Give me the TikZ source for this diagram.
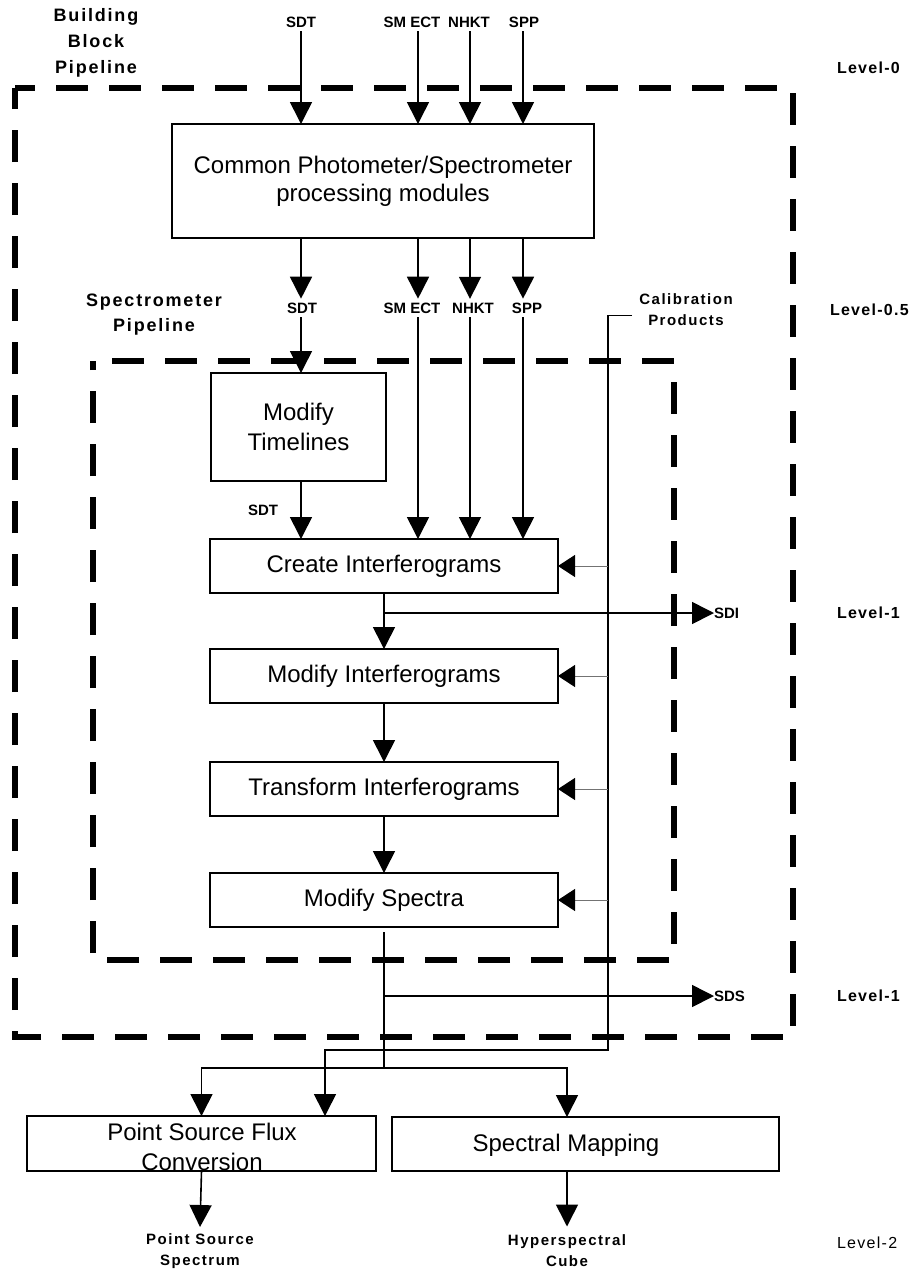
\documentclass[tikz,border=0pt]{standalone}
\usepackage{fontspec}
\setmainfont{Liberation Sans}
\newfontfamily\spacedfont[LetterSpace=10]{Liberation Sans}
\newfontfamily\lvlfont[LetterSpace=8]{Liberation Sans}
\usetikzlibrary{arrows.meta,calc}
\begin{document}
\begin{tikzpicture}[x=1pt,y=-1pt,
  every node/.style={inner sep=0pt, outer sep=0pt},
  procbox/.style={draw, line width=1.6pt, minimum height=54pt, font=\fontsize{24}{30}\selectfont, align=center},
  plainbox/.style={draw, line width=1.6pt, minimum height=54pt},
  boxtext/.style={font=\fontsize{24}{30}\selectfont, align=center},
  pipe/.style={draw, line width=5.5pt, dash pattern=on 32pt off 21pt, line cap=butt},
  arr/.style={line width=1.6pt, -{Triangle[length=22pt,width=22pt]}},
  flow/.style={line width=1.6pt},
  calarr/.style={line width=1pt, draw=black!55, -{Triangle[length=17pt,width=22pt,color=black]}},
  lab/.style={font=\bfseries\fontsize{15}{18}\selectfont, outer sep=4pt},
  tag/.style={font=\bfseries\fontsize{15}{18}\selectfont, anchor=west},
  sp/.style={font=\spacedfont\bfseries\fontsize{15}{21}\selectfont, align=center},
  title/.style={font=\spacedfont\bfseries\fontsize{18}{26}\selectfont, align=center},
  lvl/.style={font=\lvlfont\bfseries\fontsize{16}{19}\selectfont, anchor=west},
]
\useasboundingbox (0,0) rectangle (910,1270);

% pipeline containers
\draw[pipe, dash phase=12pt] (15,88) -- (793,88) -- (793,1037) -- (15,1037) -- cycle;
\draw[pipe, dash phase=34pt] (93,361) -- (674,361) -- (674,960) -- (93,960) -- cycle;

% titles
\node[title] (bbp) at (96,43) {Building\\Block\\Pipeline};
\node[title, font=\spacedfont\bfseries\fontsize{18}{25}\selectfont] (spp) at (154,315) {Spectrometer\\Pipeline};

% level labels
\node[lvl] (l0) at (837,68) {Level-0};
\node[lvl] (l05) at (830,310) {Level-0.5};
\node[lvl] (l1a) at (837,613) {Level-1};
\node[lvl] (l1b) at (837,996) {Level-1};
\node[lvl, font=\lvlfont\fontsize{16}{19}\selectfont] (l2) at (837,1243) {Level-2};

% x positions of the data streams
\coordinate (xa) at (301,0);
\coordinate (xb) at (418,0);
\coordinate (xc) at (470,0);
\coordinate (xd) at (523,0);
\coordinate (xs) at (567,0);

% top inputs
\node[lab] (sdtA) at (301,22) {SDT};
\node[lab] (smA) at (412,22) {SM ECT};
\node[lab] (nhA) at (469,22) {NHKT};
\node[lab] (spA) at (524,22) {SPP};

\node[procbox, minimum width=422pt, minimum height=114pt, font=\fontsize{24}{28}\selectfont] (common) at (383,181) {Common Photometer/Spectrometer\\processing modules};

\draw[arr] (sdtA.south -| xa) -- (common.north -| xa);
\draw[arr] (smA.south -| xb) -- (common.north -| xb);
\draw[arr] (nhA.south -| xc) -- (common.north -| xc);
\draw[arr] (spA.south -| xd) -- (common.north -| xd);

% level 0.5 products
\node[lab] (sdtB) at (302,308) {SDT};
\node[lab] (smB) at (412,308) {SM ECT};
\node[lab] (nhB) at (473,308) {NHKT};
\node[lab] (spB) at (527,308) {SPP};

\draw[arr] (common.south -| xa) -- (sdtB.north -| xa);
\draw[arr] (common.south -| xb) -- (smB.north -| xb);
\draw[arr] (common.south -| xc) -- (nhB.north -| xc);
\draw[arr] (common.south -| xd) -- (spB.north -| xd);

% spectrometer pipeline modules
\node[procbox, minimum width=175pt, minimum height=108pt] (timel) at (298.5,427) {Modify\\Timelines};
\node[procbox, minimum width=348pt] (create) at (384,566) {Create Interferograms};
\node[procbox, minimum width=348pt] (modint) at (384,676) {Modify Interferograms};
\node[procbox, minimum width=348pt] (trans) at (384,789) {Transform Interferograms};
\node[procbox, minimum width=348pt] (mspec) at (384,900) {Modify Spectra};

\node[lab] (sdtC) at (263,510) {SDT};

\draw[arr] (sdtB.south -| xa) -- (timel.north -| xa);
\draw[arr] (timel.south -| xa) -- (create.north -| xa);
\draw[arr] (smB.south -| xb) -- (create.north -| xb);
\draw[arr] (nhB.south -| xc) -- (create.north -| xc);
\draw[arr] (spB.south -| xd) -- (create.north -| xd);

\draw[arr] (create.south) -- (modint.north);
\draw[arr] (modint.south) -- (trans.north);
\draw[arr] (trans.south) -- (mspec.north);

% level 1 outputs
\coordinate (j1) at (384,613);
\coordinate (j2) at (384,996);
\coordinate (j3) at (384,1068);
\node[tag] (sdi) at (714,613) {SDI};
\node[tag] (sds) at (714,996) {SDS};
\draw[arr] (j1) -- (sdi.west);
\draw[flow] ([yshift=-5pt]mspec.south) -- (j3);
\draw[arr] (j2) -- (sds.west);

% level 2 modules
\node[plainbox, minimum width=349pt, minimum height=55pt] (psbox) at (201.5,1143.5) {};
\node[boxtext] (pstext) at (202,1147) {Point Source Flux\\Conversion};
\node[plainbox, minimum width=387pt, minimum height=54pt] (smbox) at (585.5,1144) {};
\node[boxtext] (smtext) at (566,1145) {Spectral Mapping};

\draw[arr] (j3) -| (psbox.north);
\draw[arr] (j3) -| (smbox.north -| xs);

% calibration products
\node[sp] (cal) at (686,310) {Calibration\\Products};
\coordinate (c0) at (632,315);
\coordinate (c1) at (608,315);
\coordinate (c2) at (608,1050);
\coordinate (c3) at (325,1050);
\draw[line width=1pt] (c0) -- (c1);
\draw[arr] (c1) -- (c2) -- (c3) -- (psbox.north -| c3);
\draw[calarr] (c1 |- create.east) -- (create.east);
\draw[calarr] (c1 |- modint.east) -- (modint.east);
\draw[calarr] (c1 |- trans.east) -- (trans.east);
\draw[calarr] (c1 |- mspec.east) -- (mspec.east);

% level 2 products
\node[sp, outer sep=7pt] (pslab) at (200,1251.5) {Point Source\\Spectrum};
\node[sp, outer sep=8pt] (hclab) at (567,1250.5) {Hyperspectral\\Cube};
\draw[arr] (psbox.south) -- (pslab.north);
\draw[arr] (smbox.south -| xs) -- (hclab.north);
\end{tikzpicture}
\end{document}
